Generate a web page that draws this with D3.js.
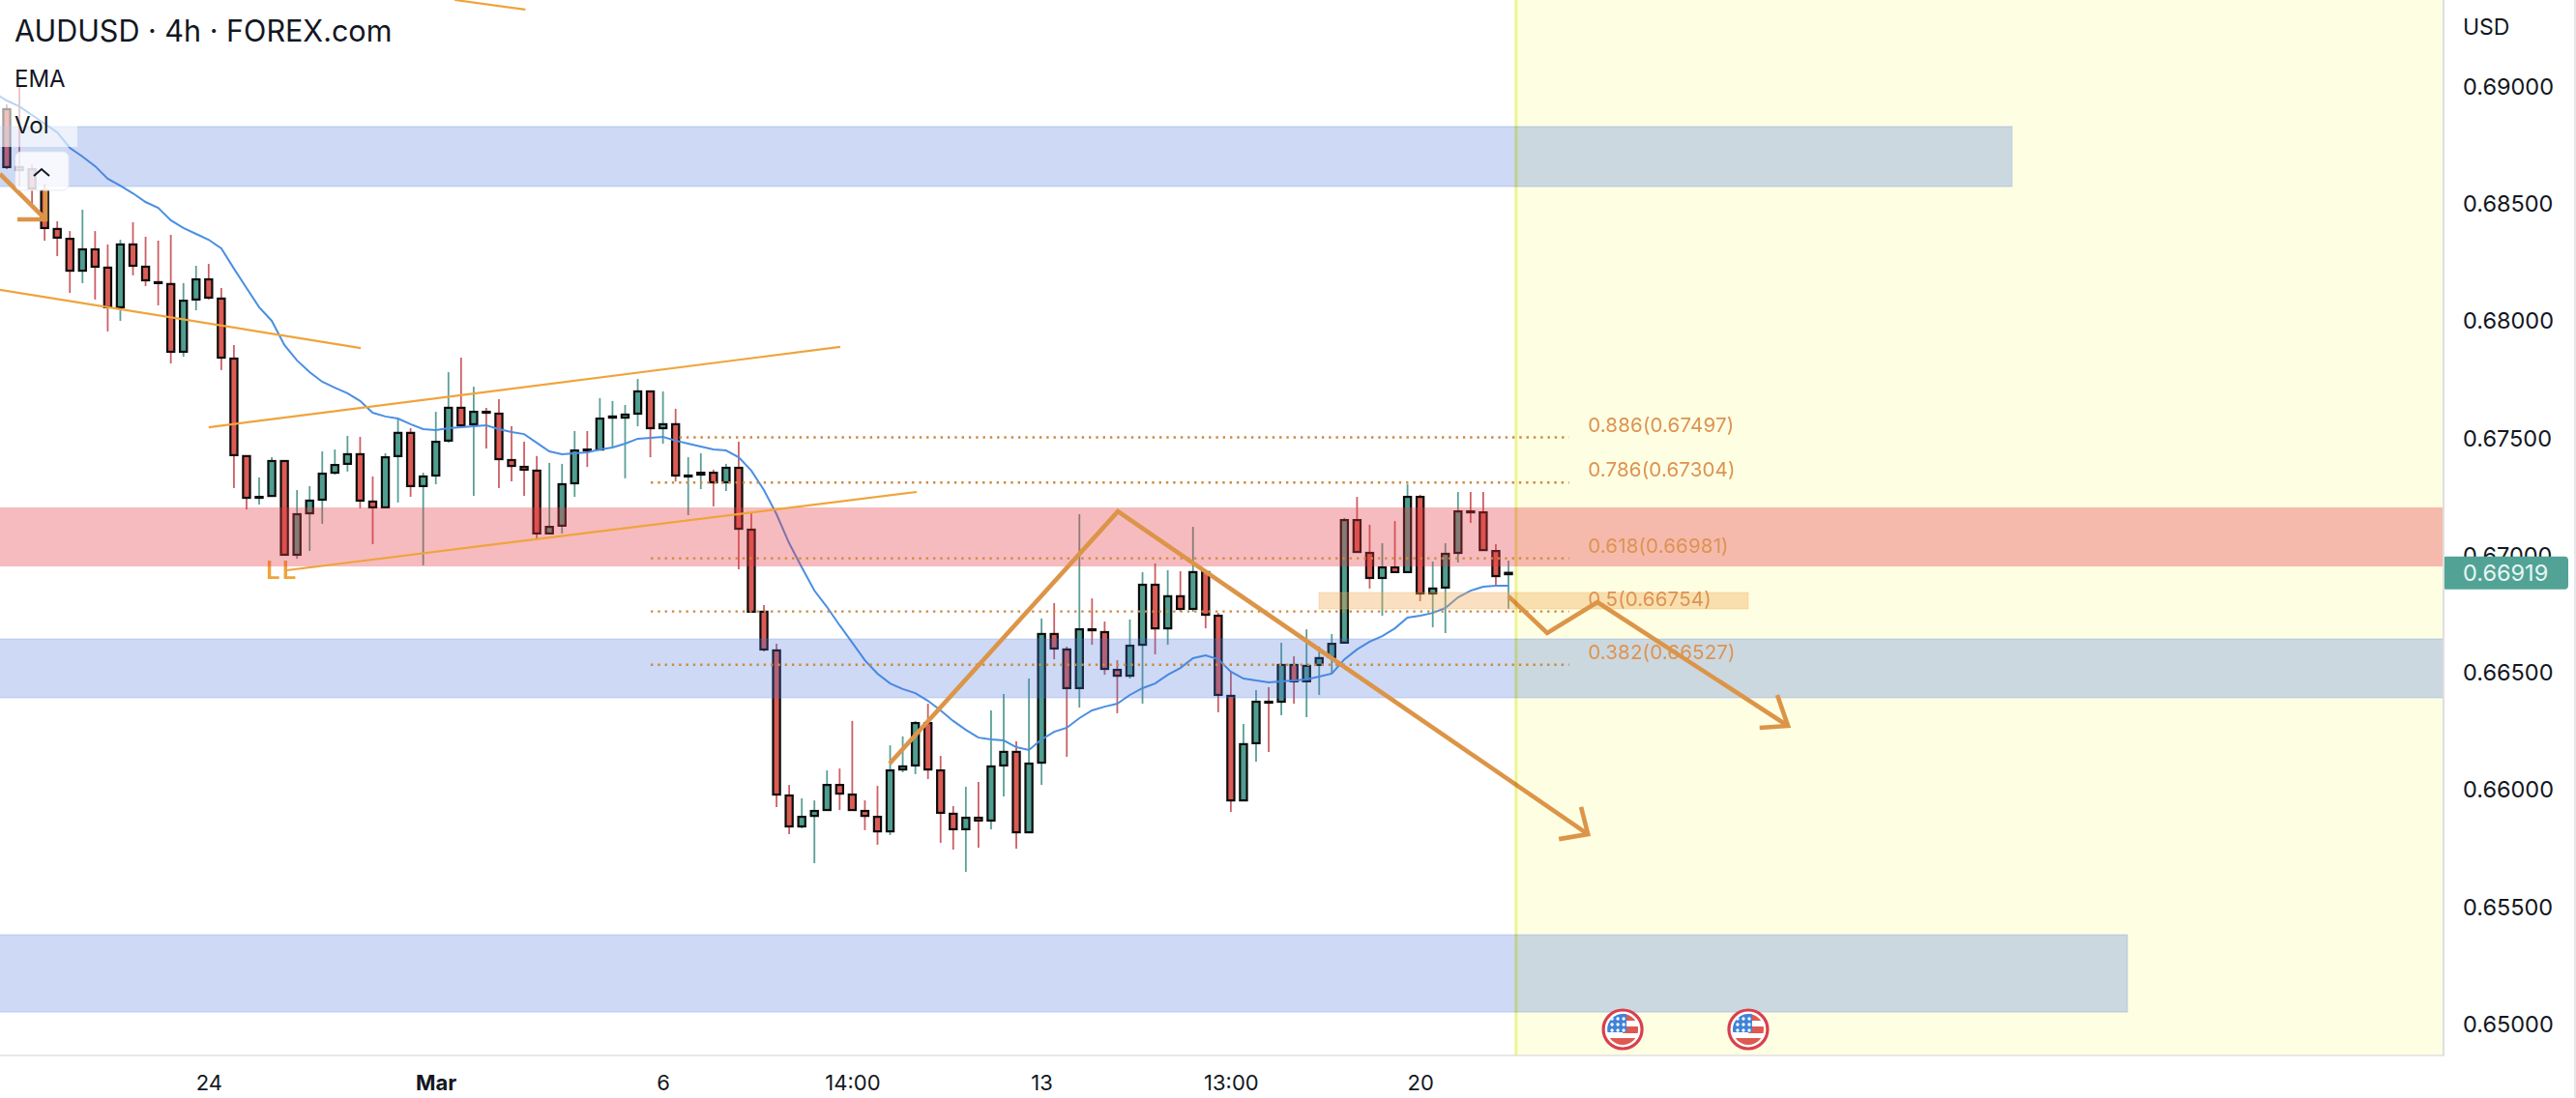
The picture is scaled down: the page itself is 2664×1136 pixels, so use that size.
<!DOCTYPE html>
<html>
<head>
<meta charset="utf-8">
<script src="https://cdn.jsdelivr.net/npm/d3@7"></script>
<style>
	html, body { margin: 0; padding: 0; background: #fff; }
	svg { display: block; }
	text { font-family: Inter, "Liberation Sans", sans-serif; }
</style>
</head>
<body>
<div id="chart"></div>
<script>
// candles, one per 4h bar
const highs = [
	0.68918,0.69000,0.68662,0.68579,0.68419,0.68377,0.68468,0.68377,0.68320,0.68340,
	0.68415,0.68353,0.68336,0.68361,0.68155,0.68229,0.68237,0.68134,0.67891,0.67417,
	0.67326,0.67412,0.67396,0.67272,0.67289,0.67437,0.67445,0.67503,0.67499,0.67330,
	0.67429,0.67577,0.67536,0.67346,0.67606,0.67775,0.67837,0.67713,0.67623,0.67660,
	0.67544,0.67478,0.67417,0.67388,0.67384,0.67524,0.67524,0.67664,0.67652,0.67635,
	0.67746,0.67693,0.67693,0.67619,0.67412,0.67429,0.67359,0.67384,0.67478,0.67177,
	0.66781,0.66616,0.66014,0.65957,0.65948,0.66076,0.66084,0.66287,0.65948,0.66010,
	0.66183,0.66221,0.66287,0.66361,0.66138,0.65924,0.66006,0.66027,0.66332,0.66402,
	0.66200,0.66468,0.66724,0.66790,0.66604,0.67169,0.66810,0.66711,0.66546,0.66720,
	0.66922,0.66959,0.66930,0.66926,0.67115,0.66922,0.66748,0.66497,0.66274,0.66419,
	0.66431,0.66621,0.66563,0.66678,0.66604,0.66658,0.67153,0.67243,0.67124,0.67045,
	0.67140,0.67297,0.67252,0.66967,0.67045,0.67264,0.67264,0.67264,0.67041,0.66971
]
const lows = [
	0.68641,0.68567,0.68476,0.68336,0.68270,0.68113,0.68155,0.68085,0.67949,0.67994,
	0.68188,0.68142,0.68060,0.67812,0.67841,0.68039,0.68085,0.67784,0.67280,0.67190,
	0.67210,0.67247,0.66996,0.66979,0.67012,0.67128,0.67338,0.67351,0.67194,0.67041,
	0.67198,0.67219,0.67243,0.66951,0.67297,0.67474,0.67548,0.67247,0.67450,0.67280,
	0.67309,0.67247,0.67066,0.67087,0.67087,0.67243,0.67371,0.67445,0.67454,0.67322,
	0.67544,0.67412,0.67470,0.67309,0.67165,0.67276,0.67202,0.67268,0.66934,0.66753,
	0.66583,0.65920,0.65804,0.65829,0.65680,0.65903,0.65907,0.65907,0.65821,0.65759,
	0.65800,0.66068,0.66060,0.66039,0.65767,0.65738,0.65643,0.65746,0.65825,0.65965,
	0.65742,0.65812,0.66014,0.66550,0.66134,0.66344,0.66612,0.66484,0.66320,0.66468,
	0.66361,0.66571,0.66612,0.66753,0.66753,0.66682,0.66324,0.65899,0.65948,0.66113,
	0.66155,0.66311,0.66361,0.66303,0.66398,0.66489,0.66621,0.67008,0.66852,0.66736,
	0.66922,0.66922,0.66798,0.66687,0.66662,0.66963,0.67132,0.67016,0.66860,0.66765
]
const opens = [
	0.68897,0.68650,0.68641,0.68551,0.68386,0.68344,0.68208,0.68299,0.68221,0.68052,
	0.68320,0.68225,0.68159,0.68151,0.67862,0.68085,0.68171,0.68089,0.67833,0.67417,
	0.67239,0.67247,0.67396,0.66996,0.67173,0.67231,0.67346,0.67384,0.67425,0.67223,
	0.67198,0.67417,0.67516,0.67289,0.67334,0.67483,0.67623,0.67553,0.67606,0.67598,
	0.67400,0.67371,0.67355,0.67087,0.67120,0.67301,0.67445,0.67445,0.67581,0.67581,
	0.67598,0.67693,0.67536,0.67553,0.67330,0.67338,0.67346,0.67305,0.67367,0.67103,
	0.66753,0.66588,0.65969,0.65837,0.65882,0.65907,0.66014,0.65973,0.65903,0.65878,
	0.65816,0.66080,0.66097,0.66278,0.66076,0.65891,0.65825,0.65874,0.65862,0.66097,
	0.66155,0.65812,0.66109,0.66658,0.66592,0.66427,0.66678,0.66666,0.66505,0.66480,
	0.66612,0.66868,0.66682,0.66819,0.66765,0.66922,0.66736,0.66394,0.65948,0.66192,
	0.66369,0.66369,0.66526,0.66456,0.66526,0.66559,0.66621,0.67144,0.67004,0.66897,
	0.66942,0.66922,0.67243,0.66831,0.66856,0.67004,0.67181,0.67177,0.67012,0.66913
]
const closes = [
	0.68650,0.68637,0.68559,0.68390,0.68349,0.68208,0.68299,0.68225,0.68052,0.68320,
	0.68229,0.68167,0.68155,0.67862,0.68080,0.68171,0.68093,0.67837,0.67421,0.67239,
	0.67243,0.67396,0.66996,0.67169,0.67227,0.67342,0.67379,0.67425,0.67227,0.67198,
	0.67412,0.67516,0.67289,0.67330,0.67478,0.67623,0.67548,0.67606,0.67602,0.67404,
	0.67375,0.67359,0.67087,0.67115,0.67297,0.67441,0.67441,0.67577,0.67586,0.67594,
	0.67693,0.67536,0.67553,0.67334,0.67334,0.67346,0.67305,0.67367,0.67107,0.66753,
	0.66592,0.65973,0.65837,0.65878,0.65903,0.66014,0.65977,0.65907,0.65882,0.65816,
	0.66076,0.66093,0.66278,0.66080,0.65895,0.65825,0.65874,0.65862,0.66093,0.66155,
	0.65812,0.66105,0.66658,0.66596,0.66427,0.66678,0.66674,0.66509,0.66480,0.66608,
	0.66868,0.66682,0.66819,0.66765,0.66922,0.66740,0.66398,0.65948,0.66188,0.66369,
	0.66365,0.66526,0.66456,0.66522,0.66555,0.66616,0.67144,0.67008,0.66897,0.66942,
	0.66922,0.67243,0.66831,0.66852,0.67000,0.67181,0.67177,0.67016,0.66905,0.66919
]
// first value belongs to the bar just left of the frame
const ema = [
	0.68967,0.68934,0.68909,0.68872,0.68835,0.68798,0.68732,0.68695,0.68654,0.68600,0.68571,
	0.68538,0.68501,0.68476,0.68423,0.68390,0.68365,0.68340,0.68303,0.68217,0.68134,
	0.68052,0.67994,0.67891,0.67825,0.67775,0.67734,0.67709,0.67685,0.67652,0.67602,
	0.67586,0.67577,0.67553,0.67532,0.67528,0.67536,0.67540,0.67544,0.67548,0.67532,
	0.67520,0.67511,0.67474,0.67437,0.67425,0.67429,0.67433,0.67445,0.67454,0.67470,
	0.67491,0.67495,0.67499,0.67483,0.67470,0.67458,0.67445,0.67441,0.67412,0.67355,
	0.67272,0.67169,0.67045,0.66942,0.66843,0.66773,0.66695,0.66621,0.66546,0.66489,
	0.66447,0.66423,0.66406,0.66373,0.66332,0.66287,0.66249,0.66216,0.66208,0.66204,
	0.66175,0.66163,0.66208,0.66241,0.66258,0.66299,0.66332,0.66348,0.66361,0.66398,
	0.66427,0.66447,0.66484,0.66513,0.66555,0.66567,0.66550,0.66497,0.66468,0.66460,
	0.66452,0.66456,0.66460,0.66464,0.66476,0.66489,0.66550,0.66592,0.66625,0.66649,
	0.66682,0.66728,0.66736,0.66748,0.66769,0.66814,0.66843,0.66860,0.66864,0.66864
]

const priceTicks = [0.69, 0.685, 0.68, 0.675, 0.67, 0.665, 0.66, 0.655, 0.65]
const lastPrice = 0.66919

const timeTicks = [16, 34, 52, 67, 82, 97, 112]
const timeLabels = ['24', 'Mar', '6', '14:00', '13', '13:00', '20']

// zones as [left bar, right bar, upper price, lower price]
const blueZones = [
	[-2, 158.9, 0.68823, 0.68567],
	[-2, 200, 0.66637, 0.66386],
	[-2, 168.05, 0.65375, 0.65045]
]
const redZones = [[-2, 200, 0.67198, 0.66946]]
const sandZones = [[103.98, 138, 0.66835, 0.66765]]
const futureZone = [119.6, 200]

// fib levels
const fibRatios = ['0.886', '0.786', '0.618', '0.5', '0.382']
const fibPrices = [0.67497, 0.67304, 0.66981, 0.66754, 0.66527]
const fibStarts = [53.3, 51.03, 51.03, 51.03, 51.03]
const fibEnd = 123.8
const fibLabelBar = 125.3

// drawn lines as lists of [bar, price]
const thinLines = [
	[[35.5, 0.69363], [41.1, 0.69322]],
	[[-0.54, 0.68126], [28.05, 0.67878]],
	[[16, 0.6754], [66.05, 0.67883]],
	[[22.2, 0.6693], [72.1, 0.67264]]
]
const thickLines = [
	[[-0.54, 0.68621], [3.07, 0.68427]],
	[[0.84, 0.68427], [3.07, 0.68427], [3.07, 0.68559]],
	[[69.96, 0.66105], [88.05, 0.67181], [125.3, 0.65804]],
	[[123, 0.65783], [125.3, 0.65804], [124.75, 0.6592]],
	[[119, 0.66819], [122.07, 0.66662], [126.05, 0.66794], [141.15, 0.66266]],
	[[138.9, 0.66258], [141.15, 0.66266], [140.3, 0.66398]]
]
const llBar = 20.54
const llPrice = 0.66893

const flagBars = [128.05, 138]

const width = 2664
const height = 1136
const paneRight = 2526
const paneBottom = 1092

const x = d3.scaleLinear().domain([0, 119]).range([7, 1560])
const y = d3.scaleLinear().domain([0.65, 0.69]).range([1058, 88])

const candles = highs.map((h, i) => ({
	i: i, high: h, low: lows[i], open: opens[i], close: closes[i], up: closes[i] >= opens[i]
}))

const svg = d3.select('#chart')
	.append('svg')
		.attr('width', width)
		.attr('height', height)

svg.append('clipPath')
	.attr('id', 'pane')
	.append('rect')
		.attr('width', paneRight)
		.attr('height', paneBottom)

const pane = svg.append('g').attr('clip-path', 'url(#pane)')

// future area goes under everything, zones tint over it
pane.append('rect')
	.attr('x', x(futureZone[0]))
	.attr('width', x(futureZone[1]) - x(futureZone[0]))
	.attr('y', 0)
	.attr('height', paneBottom)
	.style('fill', '#fefee3')

// LL sits under the red zone
pane.append('text')
	.attr('x', x(llBar))
	.attr('y', y(llPrice))
	.attr('font-size', 26)
	.attr('font-weight', 600)
	.attr('letter-spacing', 2)
	.attr('fill', '#efa43c')
	.text('LL')

pane.selectAll('line.wick')
	.data(candles)
	.enter()
	.append('line')
		.attr('class', 'wick')
		.attr('x1', d => x(d.i))
		.attr('x2', d => x(d.i))
		.attr('y1', d => y(d.high))
		.attr('y2', d => y(d.low))
		.style('stroke', d => d.up ? '#5a9f96' : '#cc5f66')
		.style('stroke-width', 1.8)

pane.selectAll('rect.body')
	.data(candles)
	.enter()
	.append('rect')
		.attr('class', 'body')
		.attr('x', d => x(d.i) - 3.6)
		.attr('width', 7.2)
		.attr('y', d => y(Math.max(d.open, d.close)))
		.attr('height', d => Math.max(0.6, Math.abs(y(d.open) - y(d.close))))
		.style('fill', d => d.up ? '#4f9e90' : '#dc5b54')
		.style('stroke', '#0c0c0c')
		.style('stroke-width', 2.2)

const emaLine = d3.line()
	.x((d, i) => x(i - 1))
	.y(d => y(d))

pane.append('path')
	.attr('d', emaLine(ema))
	.style('fill', 'none')
	.style('stroke', '#4b8fe2')
	.style('stroke-width', 2)

const zoneRect = (sel, zones, fill, edge) => {
	sel.selectAll(null)
		.data(zones)
		.enter()
		.append('rect')
			.attr('x', d => x(d[0]))
			.attr('width', d => x(d[1]) - x(d[0]))
			.attr('y', d => y(d[2]))
			.attr('height', d => y(d[3]) - y(d[2]))
			.style('fill', fill)
			.style('stroke', edge)
			.style('stroke-width', 1.5)
}

zoneRect(pane, blueZones, 'rgba(70,114,218,0.27)', 'rgba(70,130,218,0.18)')
zoneRect(pane, redZones, 'rgba(230,60,70,0.35)', 'none')
zoneRect(pane, sandZones, 'rgba(240,170,80,0.36)', 'rgba(240,170,80,0.2)')

// fib levels and their labels
pane.selectAll('line.fib')
	.data(fibPrices)
	.enter()
	.append('line')
		.attr('class', 'fib')
		.attr('x1', (d, i) => x(fibStarts[i]))
		.attr('x2', x(fibEnd))
		.attr('y1', d => y(d))
		.attr('y2', d => y(d))
		.style('stroke', '#cd8a42')
		.style('stroke-width', 2.4)
		.style('stroke-dasharray', '2.4 4.9')

pane.selectAll('text.fib')
	.data(fibPrices)
	.enter()
	.append('text')
		.attr('class', 'fib')
		.attr('x', x(fibLabelBar))
		.attr('y', d => y(d) - 13)
		.attr('dy', '0.35em')
		.attr('font-size', 20.5)
		.attr('letter-spacing', 0.15)
		.attr('fill', '#dd9352')
		.text((d, i) => `${fibRatios[i]}(${d3.format('.5f')(d)})`)

const drawn = d3.line()
	.x(d => x(d[0]))
	.y(d => y(d[1]))

pane.selectAll('path.thin')
	.data(thinLines)
	.enter()
	.append('path')
		.attr('class', 'thin')
		.attr('d', drawn)
		.style('fill', 'none')
		.style('stroke', '#efa43c')
		.style('stroke-width', 2.2)

pane.selectAll('path.thick')
	.data(thickLines)
	.enter()
	.append('path')
		.attr('class', 'thick')
		.attr('d', drawn)
		.style('fill', 'none')
		.style('stroke', '#dc9548')
		.style('stroke-width', 4.6)

pane.append('line')
	.attr('x1', x(futureZone[0]))
	.attr('x2', x(futureZone[0]))
	.attr('y1', 0)
	.attr('y2', paneBottom)
	.style('stroke', '#eff59a')
	.style('stroke-width', 3)
	.style('mix-blend-mode', 'multiply')

// event flags
flagBars.forEach((bar, n) => {
	const flag = pane.append('g').attr('transform', `translate(${x(bar)}, 1065)`)
	const clipId = `flag${n}`

	flag.append('clipPath')
		.attr('id', clipId)
		.append('circle')
			.attr('r', 16)

	flag.append('circle')
		.attr('r', 20)
		.style('fill', '#fff')
		.style('stroke', '#d93f4c')
		.style('stroke-width', 3.2)

	const inner = flag.append('g').attr('clip-path', `url(#${clipId})`)

	inner.selectAll('rect.stripe')
		.data([-16, -3, 9])
		.enter()
		.append('rect')
			.attr('class', 'stripe')
			.attr('x', (d, i) => i === 2 ? -16 : 0)
			.attr('width', (d, i) => i === 2 ? 32 : 16)
			.attr('y', d => d)
			.attr('height', (d, i) => i === 2 ? 8 : 7)
			.style('fill', '#dd5a50')

	inner.append('rect')
		.attr('x', -16)
		.attr('y', -16)
		.attr('width', 20)
		.attr('height', 19)
		.style('fill', '#3f83d8')

	d3.range(3).forEach(row => {
		d3.range(3).forEach(col => {
			inner.append('circle')
				.attr('cx', -11 + col * 6)
				.attr('cy', -11 + row * 6)
				.attr('r', 1.7)
				.style('fill', '#fff')
		})
	})
})

// price axis
const yAxis = d3.axisRight(y)
	.tickValues(priceTicks)
	.tickFormat(d3.format('.5f'))
	.tickSize(0)
	.tickPadding(21)

const yAxisG = svg.append('g')
	.attr('transform', `translate(${paneRight}, 0)`)
	.call(yAxis)

yAxisG.select('.domain').remove()
yAxisG.selectAll('text')
	.attr('dy', '0.4em')
	.style('font-family', 'Inter, sans-serif')
	.style('font-size', '23.5px')
	.style('fill', '#131722')

svg.append('text')
	.attr('x', 2547)
	.attr('y', 28)
	.attr('dy', '0.35em')
	.attr('font-size', 23)
	.attr('fill', '#131722')
	.text('USD')

svg.append('rect')
	.attr('x', paneRight)
	.attr('y', y(lastPrice) - 17)
	.attr('width', 130)
	.attr('height', 34)
	.attr('rx', 4)
	.style('fill', '#52a396')

svg.append('text')
	.attr('x', 2547)
	.attr('y', y(lastPrice))
	.attr('dy', '0.37em')
	.attr('font-size', 23.5)
	.attr('fill', '#e8f6f3')
	.text(d3.format('.5f')(lastPrice))

// time axis
const xAxis = d3.axisBottom(x)
	.tickValues(timeTicks)
	.tickFormat((d, i) => timeLabels[i])
	.tickSize(0)
	.tickPadding(20)

const xAxisG = svg.append('g')
	.attr('transform', `translate(0, ${paneBottom})`)
	.call(xAxis)

xAxisG.select('.domain').remove()
xAxisG.selectAll('text')
	.style('font-family', 'Inter, sans-serif')
	.style('font-size', '22px')
	.style('fill', '#131722')
	.style('font-weight', d => d === 34 ? 700 : 400)

// frame lines
svg.append('line')
	.attr('x1', paneRight + 1)
	.attr('x2', paneRight + 1)
	.attr('y1', 0)
	.attr('y2', paneBottom)
	.style('stroke', '#dedfe1')
	.style('stroke-width', 2)

svg.append('line')
	.attr('x1', 0)
	.attr('x2', paneRight + 2)
	.attr('y1', paneBottom)
	.attr('y2', paneBottom)
	.style('stroke', '#dedfe1')
	.style('stroke-width', 1.5)

svg.append('rect')
	.attr('x', 2662)
	.attr('width', 2)
	.attr('height', height)
	.style('fill', '#e6e7ea')

// legend block on top of the chart
svg.append('rect')
	.attr('x', 0)
	.attr('y', 60)
	.attr('width', 80)
	.attr('height', 92)
	.style('fill', 'rgba(255,255,255,0.62)')

svg.append('text')
	.attr('x', 15)
	.attr('y', 43)
	.attr('font-size', 30.5)
	.attr('fill', '#131722')
	.text('AUDUSD · 4h · FOREX.com')

svg.append('text')
	.attr('x', 15)
	.attr('y', 90)
	.attr('font-size', 24)
	.attr('fill', '#131722')
	.text('EMA')

svg.append('text')
	.attr('x', 15)
	.attr('y', 138)
	.attr('font-size', 24)
	.attr('fill', '#131722')
	.text('Vol')

svg.append('rect')
	.attr('x', 16)
	.attr('y', 157)
	.attr('width', 55)
	.attr('height', 40)
	.attr('rx', 6)
	.style('fill', 'rgba(255,255,255,0.82)')
	.style('stroke', 'rgba(230,232,240,0.9)')
	.style('stroke-width', 1)

svg.append('path')
	.attr('d', 'M35,182 L43,175 L51,182')
	.style('fill', 'none')
	.style('stroke', '#131722')
	.style('stroke-width', 2)
</script>
</body>
</html>
